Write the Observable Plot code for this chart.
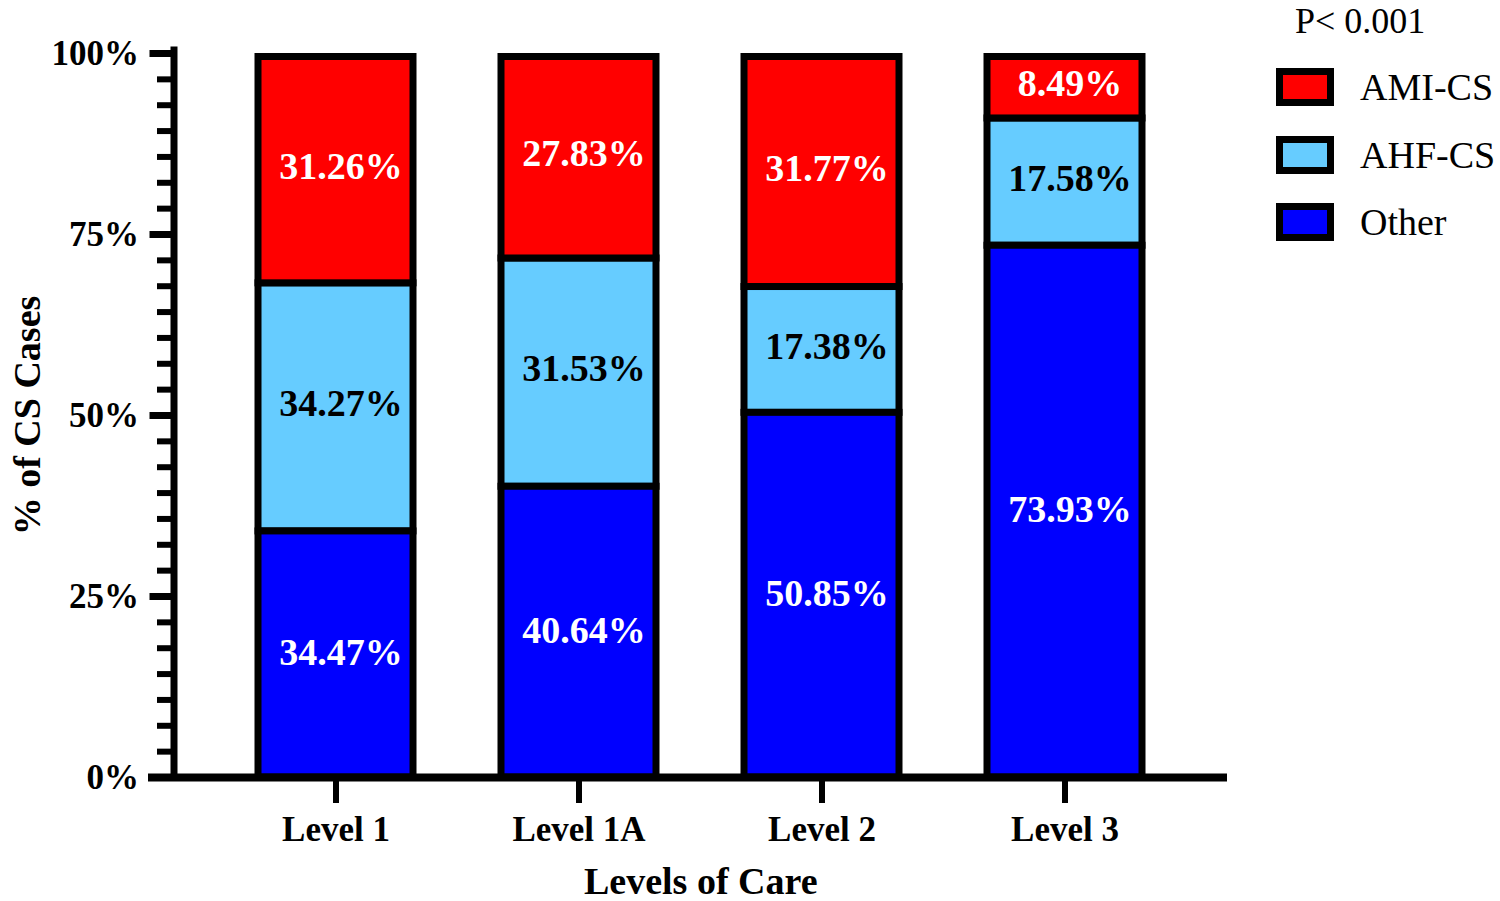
<!DOCTYPE html>
<html>
<head>
<meta charset="utf-8">
<script src="https://cdn.jsdelivr.net/npm/d3@7"></script>
<script src="https://cdn.jsdelivr.net/npm/@observablehq/plot@0.6"></script>
<style>
  html, body { margin: 0; padding: 0; background: #fff; }
  #wrap { position: relative; width: 1500px; height: 901px; overflow: hidden; }
  .leg { position: absolute; font-family: "Liberation Serif", "Times New Roman", serif; color: #000; white-space: nowrap; }
  .item { display: flex; align-items: center; height: 38px; }
  .sw { box-sizing: border-box; width: 58px; height: 38px; border: 7px solid #000; }
  .lab { margin-left: 26px; font-size: 38px; }
</style>
</head>
<body>
<div id="wrap"></div>
<script>
// ---- data ----
const levels = ["Level 1", "Level 1A", "Level 2", "Level 3"];
const categories = ["Other", "AHF-CS", "AMI-CS"];          // stacking order, bottom to top
const otherValues = [34.47, 40.64, 50.85, 73.93];
const ahfValues   = [34.27, 31.53, 17.38, 17.58];
const amiValues   = [31.26, 27.83, 31.77, 8.49];
const categoryColors = ["#0000ff", "#66ccff", "#ff0000"];  // Other, AHF-CS, AMI-CS
const legendOrder = ["AMI-CS", "AHF-CS", "Other"];
const yTicks = [0, 25, 50, 75, 100];
const minorTicksPerGap = 6;
const pValueText = "P< 0.001";
const xTitle = "Levels of Care";
const yTitle = "% of CS Cases";

// ---- build table ----
const series = {"Other": otherValues, "AHF-CS": ahfValues, "AMI-CS": amiValues};
const rows = [];
levels.forEach((lv, i) => {
  let acc = 0;
  categories.forEach(c => {
    const v = series[c][i];
    rows.push({level: lv, cat: c, value: v, y1: acc, y2: acc + v, mid: acc + v / 2});
    acc += v;
  });
});
const minorTicks = [];
for (let j = 0; j < yTicks.length - 1; j++) {
  const a = yTicks[j], b = yTicks[j + 1];
  for (let k = 1; k <= minorTicksPerGap; k++) minorTicks.push(a + (b - a) * k / (minorTicksPerGap + 1));
}
const colorOf = Object.fromEntries(categories.map((c, i) => [c, categoryColors[i]]));

const font = "Liberation Serif";
const chart = Plot.plot({
  width: 1500,
  height: 901,
  marginLeft: 173.5,
  marginRight: 273,
  marginTop: 53,
  marginBottom: 124,
  style: {fontFamily: font, fontWeight: "bold", background: "white", overflow: "visible", color: "black"},
  x: {domain: levels, paddingInner: 0.363, paddingOuter: 0.3465, axis: null},
  y: {domain: [0, 100], axis: null},
  color: {domain: categories, range: categoryColors},
  marks: [
    Plot.barY(rows.filter(d => d.cat !== "Other"), {
      x: "level", y1: "y1", y2: "y2", fill: "cat",
      stroke: "black", strokeWidth: 7, insetTop: 3.5, insetBottom: -3.5
    }),
    Plot.barY(rows.filter(d => d.cat === "Other"), {
      x: "level", y1: "y1", y2: "y2", fill: "cat",
      stroke: "black", strokeWidth: 7, insetTop: 3.5, insetBottom: 0
    }),
    Plot.text(rows, {
      x: "level", y: "mid", text: d => d.value.toFixed(2) + "%",
      fill: d => d.cat === "AHF-CS" ? "black" : "white",
      fontSize: 38, fontWeight: "bold", dx: 5
    }),
    // y axis
    Plot.frame({anchor: "left", stroke: "black", strokeWidth: 7, insetTop: -3.5}),
    Plot.axisY({ticks: minorTicks, tickSize: 16.5, strokeWidth: 6, stroke: "black",
      tickFormat: () => "", label: null}),
    Plot.axisY({ticks: yTicks, tickFormat: d => d + "%", tickSize: 24, tickPadding: 11,
      strokeWidth: 7, stroke: "black", fontSize: 35, fontWeight: "bold", fill: "black", label: null}),
    // x axis
    Plot.axisX({tickSize: 26, tickPadding: 13, strokeWidth: 6, stroke: "black",
      fontSize: 35, fontWeight: "bold", fill: "black", label: null}),
    Plot.ruleY([0], {stroke: "black", strokeWidth: 8, insetLeft: -25.5}),
    // titles
    Plot.text([xTitle], {text: d => d, frameAnchor: "bottom", dy: 116, lineAnchor: "bottom",
      fontSize: 38, fontWeight: "bold", fill: "black"}),
    Plot.text([yTitle], {text: d => d, frameAnchor: "left", textAnchor: "middle", dx: -134.5, rotate: -90,
      lineAnchor: "bottom", fontSize: 38, fontWeight: "bold", fill: "black"})
  ]
});
const wrap = document.getElementById("wrap");
wrap.appendChild(chart);

// ---- legend ----
const title = document.createElement("div");
title.className = "leg";
title.style.left = "1295px";
title.style.top = "3px";
title.style.fontSize = "36px";
title.style.lineHeight = "36px";
title.textContent = pValueText;
wrap.appendChild(title);
legendOrder.forEach((c, i) => {
  const item = document.createElement("div");
  item.className = "leg item";
  item.style.left = "1276px";
  item.style.top = (68 + i * 67.5) + "px";
  const sw = document.createElement("div");
  sw.className = "sw";
  sw.style.background = colorOf[c];
  const lab = document.createElement("span");
  lab.className = "lab";
  lab.textContent = c;
  item.appendChild(sw);
  item.appendChild(lab);
  wrap.appendChild(item);
});
</script>
</body>
</html>
